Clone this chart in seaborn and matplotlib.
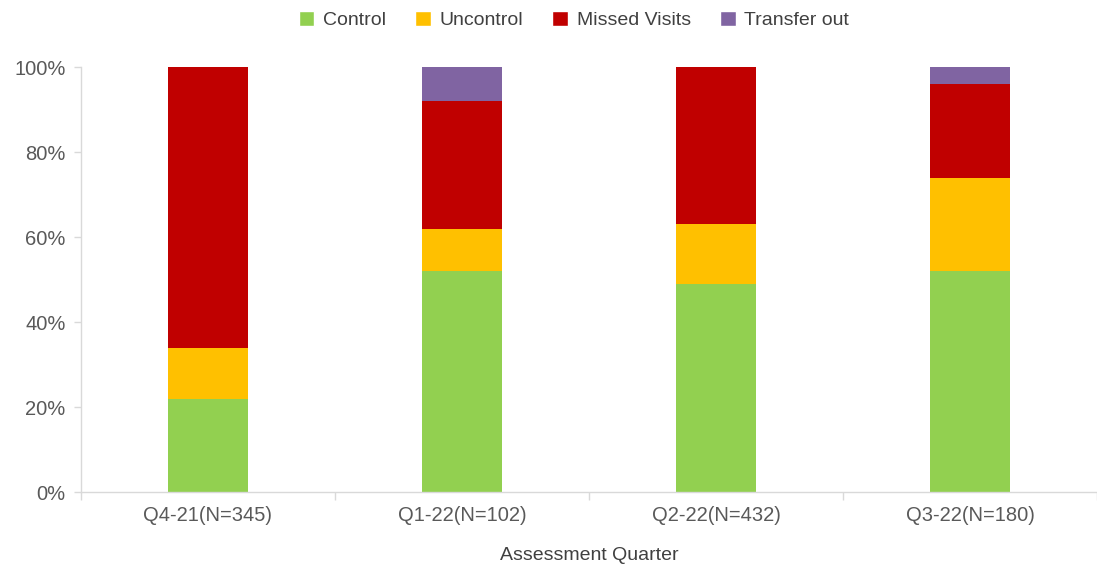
import pandas as pd
import seaborn as sns
import matplotlib.pyplot as plt
from matplotlib.patches import Patch
from matplotlib.ticker import FuncFormatter

quarters = ["Q4-21(N=345)", "Q1-22(N=102)", "Q2-22(N=432)", "Q3-22(N=180)"]
control = [22, 52, 49, 52]
uncontrol = [12, 10, 14, 22]
missed = [66, 30, 37, 22]
transfer = [0, 8, 0, 4]

series = ["Control", "Uncontrol", "Missed Visits", "Transfer out"]
colors = ["#92D050", "#FFC000", "#C00000", "#8064A2"]

df = pd.DataFrame({"quarter": quarters, "Control": control, "Uncontrol": uncontrol,
                   "Missed Visits": missed, "Transfer out": transfer})
cum = df[series].cumsum(axis=1)
cum["quarter"] = df["quarter"]

sns.set_style("white")
plt.rcParams['font.family'] = ['Liberation Sans', 'DejaVu Sans']

fig = plt.figure(figsize=(10.97, 5.68), dpi=100)
ax = fig.add_axes([0.0738, 0.1338, 0.9262, 0.7482])

# draw cumulative layers from the top down
for name, col in reversed(list(zip(series, colors))):
    sns.barplot(data=cum, x="quarter", y=name, color=col, width=0.315,
                saturation=1, ax=ax, linewidth=0)

ax.set_ylim(0, 100)
ax.set_xlim(-0.5, 3.46)
ax.set_yticks([0, 20, 40, 60, 80, 100])
ax.yaxis.set_major_formatter(FuncFormatter(lambda v, p: f"{v:.0f}%"))
ax.set_ylabel("")
ax.set_xlabel("Assessment Quarter", fontsize=14, color="#404040")
ax.xaxis.set_label_coords(0.5, -0.13)

ax.set_xticks([-0.5, 0.5, 1.5, 2.5, 3.5], minor=False)
ax.set_xticklabels([])
ax.set_xticks(range(4), minor=True)
ax.set_xticklabels(quarters, minor=True)
ax.tick_params(axis="x", which="major", length=6, color="#d9d9d9", width=1)
ax.tick_params(axis="x", which="minor", length=0, labelsize=14.5, labelcolor="#595959", pad=10)
ax.tick_params(axis="y", length=5, color="#d9d9d9", width=1, labelsize=14.5, labelcolor="#595959", pad=6)
ax.tick_params(left=True, bottom=True)

for s in ["top", "right"]:
    ax.spines[s].set_visible(False)
for s in ["left", "bottom"]:
    ax.spines[s].set_color("#d9d9d9")
    ax.spines[s].set_linewidth(1)

handles = [Patch(facecolor=c, label=n) for n, c in zip(series, colors)]
fig.legend(handles=handles, loc="center", bbox_to_anchor=(574 / 1097, 1 - 20 / 568),
           ncol=4, frameon=False, fontsize=14, handlelength=0.8, handleheight=0.8,
           handletextpad=0.45, columnspacing=1.5, labelcolor="#404040")

fig.savefig("out.png", dpi=100)
